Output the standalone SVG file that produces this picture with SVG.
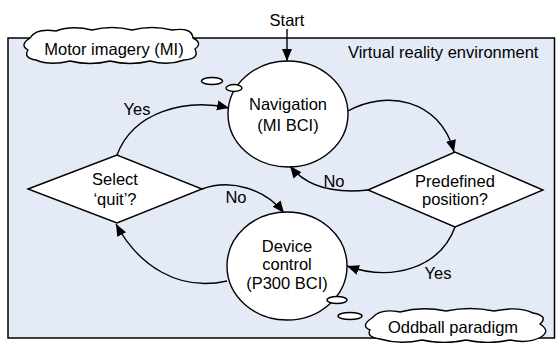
<svg xmlns="http://www.w3.org/2000/svg" width="556" height="343" viewBox="0 0 556 343">
<defs>
<style>
text{font-family:"Liberation Sans",Arial,sans-serif;font-size:16.5px;fill:#000}
.c{text-anchor:middle}
.shape{fill:#fff;stroke:#000;stroke-width:1.4}
.conn{fill:none;stroke:#000;stroke-width:1.4}
</style>
<marker id="ah" markerUnits="userSpaceOnUse" markerWidth="13" markerHeight="11" refX="12" refY="5" orient="auto">
<path d="M0,0 L12,5 L0,10 Z" fill="#000"/>
</marker>
</defs>
<rect x="0" y="0" width="556" height="343" fill="#fff"/>
<g id="environment">
<rect x="8" y="38" width="546.5" height="300" fill="#E4EAF6" stroke="#000" stroke-width="1.5"/>
<text x="348" y="58">Virtual reality environment</text>
</g>
<g id="start-label"><text class="c" x="287" y="26">Start</text></g>
<g id="connectors">
<path class="conn" d="M287,29 L287,61" marker-end="url(#ah)"/>
<path class="conn" d="M348,111 C385,90 440,98 454,152" marker-end="url(#ah)"/>
<path class="conn" d="M368,190 C330,194 305,185 290,166" marker-end="url(#ah)"/>
<path class="conn" d="M455,227 C440,268 392,282 347,266" marker-end="url(#ah)"/>
<path class="conn" d="M227,281 C178,292 138,265 116,224" marker-end="url(#ah)"/>
<path class="conn" d="M117,155 C133,112 185,98 229,108" marker-end="url(#ah)"/>
<path class="conn" d="M202,189 C232,178 266,190 284,213" marker-end="url(#ah)"/>
<text class="c" x="137" y="115">Yes</text>
<text class="c" x="236" y="203">No</text>
<text class="c" x="334" y="187">No</text>
<text class="c" x="438" y="279">Yes</text>
</g>
<g id="navigation">
<ellipse class="shape" cx="288" cy="114" rx="60" ry="53"/>
<text class="c" x="288" y="110">Navigation</text>
<text class="c" x="288" y="131">(MI BCI)</text>
</g>
<g id="device-control">
<ellipse class="shape" cx="287" cy="266" rx="60" ry="54"/>
<text class="c" x="287" y="252">Device</text>
<text class="c" x="287" y="270">control</text>
<text class="c" x="287" y="289">(P300 BCI)</text>
</g>
<g id="select-quit">
<path class="shape" d="M28,189 L117,155 L202,189 L117,223 Z"/>
<text class="c" x="115" y="185">Select</text>
<text class="c" x="115" y="205">‘quit’?</text>
</g>
<g id="predefined-position">
<path class="shape" d="M368,190 L455,152 L543,190 L455,227 Z"/>
<text class="c" x="455" y="187">Predefined</text>
<text class="c" x="455" y="205">position?</text>
</g>
<g id="motor-imagery">
<path class="shape" d="M30,38 Q36,28 56,31 Q72,25 92,30 Q112,25 132,30 Q152,25 172,30 Q192,27 193,38 Q203,43 195,49 Q200,59 184,60 Q168,66 150,61 Q130,66 110,61 Q90,66 70,61 Q50,66 36,60 Q23,58 28,50 Q19,45 30,38 Z"/>
<text class="c" x="114" y="55">Motor imagery (MI)</text>
<ellipse class="shape" cx="212" cy="81" rx="10.5" ry="3.5"/>
<ellipse class="shape" cx="234" cy="88" rx="8" ry="3.5"/>
</g>
<g id="oddball-paradigm">
<path class="shape" d="M372,318 Q380,308 400,312 Q422,306 446,311 Q470,306 494,311 Q518,306 533,313 Q549,316 540,324 Q551,331 541,337 Q528,344 510,340 Q488,345 466,340 Q444,345 422,340 Q400,345 380,339 Q366,337 370,330 Q360,326 372,318 Z"/>
<text class="c" x="453" y="333">Oddball paradigm</text>
<ellipse class="shape" cx="337" cy="300" rx="10" ry="3.5"/>
<ellipse class="shape" cx="350" cy="316" rx="12" ry="3.5"/>
</g>
</svg>
